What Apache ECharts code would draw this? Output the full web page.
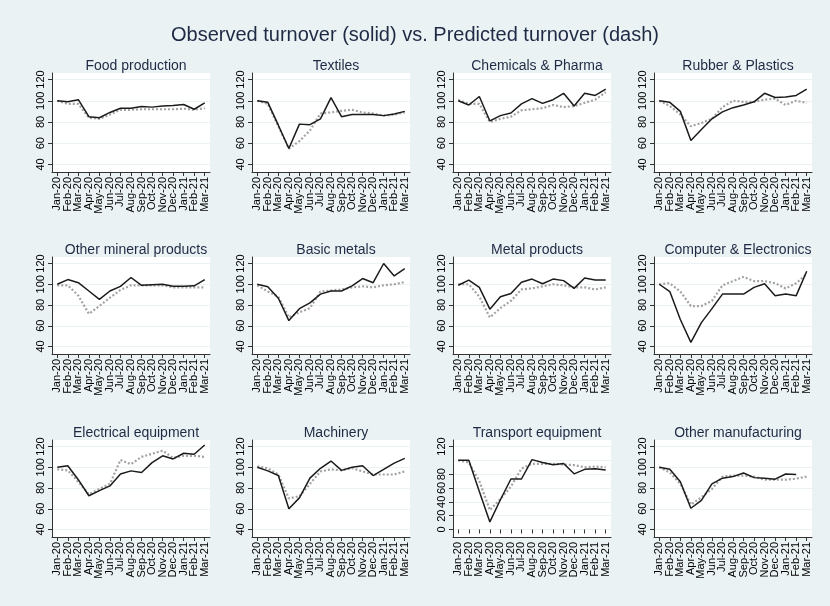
<!DOCTYPE html>
<html lang="en">
<head>
<meta charset="UTF-8">
<title>Observed vs predicted turnover</title>
<script src="https://cdn.jsdelivr.net/npm/echarts@6/dist/echarts.min.js"></script>
<style>html,body{margin:0;background:#eaf2f3;}</style>
</head>
<body>
<div id="main" style="width:830px;height:606px;"></div>
<script>
var months = ['Jan-20', 'Feb-20', 'Mar-20', 'Apr-20', 'May-20', 'Jun-20', 'Jul-20', 'Aug-20',
	'Sep-20', 'Oct-20', 'Nov-20', 'Dec-20', 'Jan-21', 'Feb-21', 'Mar-21'];

// observed (solid) and predicted (dash) turnover
var foodObs = [100, 99, 101, 85, 84, 89, 93, 93, 94.5, 94, 95, 95.5, 96.5, 92, 98];
var foodPred = [100, 97, 97, 84, 83, 87, 91.5, 91.5, 92, 92, 92, 92, 92.5, 91.5, 93];
var textilesObs = [100, 98.5, 77, 55, 78, 77.5, 83, 103, 85, 87, 87, 87, 86, 87.5, 90];
var textilesPred = [100, 97, 76, 55, 62, 72, 88, 89, 90.5, 91.5, 89, 88, 86, 87, 89];
var chemObs = [100, 96, 104, 81, 86, 88.5, 97, 102, 97.5, 101, 107, 95, 107, 105, 111];
var chemPred = [101, 97, 97, 80, 83, 85, 91, 92, 93, 96, 94, 95, 98, 101, 108];
var rubberObs = [100, 98.5, 90, 62.5, 73, 83, 89.5, 93.5, 96, 99, 107, 103, 103.5, 105, 111];
var rubberPred = [100, 95, 87, 76, 79, 83, 94, 100, 99, 99, 101, 102, 96, 100, 98];
var mineralObs = [100, 104.5, 101.5, 93.5, 85.5, 93.5, 98, 106.5, 99, 99.5, 100, 98, 98, 98.5, 104.5];
var mineralPred = [99, 99, 89, 71.5, 79, 87, 94.5, 99, 99, 99, 99, 97, 97, 97, 97];
var basicObs = [100, 97.5, 86.5, 65, 76.5, 82, 90.5, 93.5, 93.5, 98.5, 105.5, 101.5, 120, 108, 115];
var basicPred = [99, 93, 88, 68, 73, 77, 93, 94, 95, 97, 98, 97, 99, 100, 102];
var metalObs = [99, 104, 97, 76, 88, 91, 102, 105, 100.5, 105, 103.5, 96, 106, 104, 104];
var metalPred = [100, 100, 88, 68, 77, 84, 95, 96, 98, 100, 99, 97, 97, 95, 97];
var compObs = [100, 93, 66, 44, 63, 76.5, 90.5, 90.5, 90.5, 97, 100.5, 89, 90.5, 89, 112.5];
var compPred = [100, 101, 93, 79, 79, 84, 99, 103, 107, 103, 103, 101, 96, 101, 110];
var elecObs = [100, 101.5, 88, 72.5, 77.5, 82, 93.5, 96.5, 95, 104.5, 111, 108, 113.5, 112.5, 121.5];
var elecPred = [98, 97, 86, 74, 79, 84, 107, 103, 110, 113, 116, 109, 111, 111, 110];
var machObs = [100, 96.5, 92, 60, 70.5, 89.5, 99, 106, 97, 100, 101.5, 92, 98, 104, 108.5];
var machPred = [101, 99, 93, 70, 72, 84, 96, 98, 97, 99, 96, 93, 93, 93, 96];
var transObs = [100, 100, 55, 11, 43, 73, 73, 101, 97, 93.5, 95.5, 80.5, 87, 88, 86];
var transPred = [100, 97, 70, 28, 44, 62, 88, 95, 95, 95, 94, 93, 90, 91, 90];
var otherObs = [100, 98, 86, 60.5, 68, 84, 89.5, 91, 94.5, 90, 89.5, 88.5, 93.5, 93, null];
var otherPred = [100, 95, 84, 64, 71, 79, 91, 92, 92, 91, 88, 88, 88, 89, 91];

var panelTitles = ['Food production', 'Textiles', 'Chemicals & Pharma', 'Rubber & Plastics',
	'Other mineral products', 'Basic metals', 'Metal products', 'Computer & Electronics',
	'Electrical equipment', 'Machinery', 'Transport equipment', 'Other manufacturing'];
var observed = [foodObs, textilesObs, chemObs, rubberObs, mineralObs, basicObs, metalObs, compObs,
	elecObs, machObs, transObs, otherObs];
var predicted = [foodPred, textilesPred, chemPred, rubberPred, mineralPred, basicPred, metalPred, compPred,
	elecPred, machPred, transPred, otherPred];
var yMin = [40, 40, 40, 40, 40, 40, 40, 40, 40, 40, 0, 40];
var yMax = 120;

// layout of the 4 x 3 panels
var colLeft = [52, 252, 453, 654];
var plotWidth = 158;
var rowTop = [73, 257, 440];
var rowBottom = [172, 354, 537];
var padTop = 6.5, padBottom = 7.5;
var font = 'Liberation Sans';
var axisColor = '#333';

var grids = [], xAxes = [], yAxes = [], series = [];
var titles = [{
	text: 'Observed turnover (solid) vs. Predicted turnover (dash)',
	left: 'center',
	top: 20,
	textStyle: {fontFamily: font, fontSize: 20, fontWeight: 'normal', color: '#1e2a44'}
}];

function addPanel(i) {
	var c = i % 4, r = Math.floor(i / 4);
	var x0 = colLeft[c], y0 = rowTop[r], h = rowBottom[r] - rowTop[r];

	titles.push({
		text: panelTitles[i],
		left: x0 + plotWidth / 2,
		textAlign: 'center',
		top: y0 - 19,
		textStyle: {fontFamily: font, fontSize: 14, fontWeight: 'normal', color: '#1e2a44'}
	});

	// white plot region with the axis lines
	grids.push({left: x0, top: y0, width: plotWidth, height: h, show: true,
		backgroundColor: '#fff', borderWidth: 0});
	// data region inside it
	grids.push({left: x0, top: y0 + padTop, width: plotWidth, height: h - padTop - padBottom});

	xAxes.push({
		gridIndex: 2 * i, type: 'value', min: 0, max: 1,
		axisLine: {show: true, onZero: false, lineStyle: {color: axisColor, width: 1}},
		axisTick: {show: false}, axisLabel: {show: false}, splitLine: {show: false}
	});
	yAxes.push({
		gridIndex: 2 * i, type: 'value', min: 0, max: 1,
		axisLine: {show: true, onZero: false, lineStyle: {color: axisColor, width: 1}},
		axisTick: {show: false}, axisLabel: {show: false}, splitLine: {show: false}
	});

	xAxes.push({
		gridIndex: 2 * i + 1, type: 'category', data: months, boundaryGap: true,
		offset: padBottom,
		axisLine: {show: false},
		axisTick: {show: true, alignWithLabel: true, length: 4, lineStyle: {color: axisColor}},
		axisLabel: {rotate: 90, interval: 0, fontSize: 11, margin: 5, color: '#000', fontFamily: font,
			hideOverlap: false}
	});
	yAxes.push({
		gridIndex: 2 * i + 1, type: 'value', min: yMin[i], max: yMax, interval: 20,
		axisLine: {show: false},
		axisTick: {show: true, length: 4, lineStyle: {color: axisColor}},
		axisLabel: {rotate: 90, fontSize: 11, margin: 6, color: '#000', fontFamily: font,
			showMinLabel: true, showMaxLabel: true, hideOverlap: false},
		splitLine: {show: true, lineStyle: {color: '#eaf2f3', width: 1}}
	});

	series.push({
		type: 'line', xAxisIndex: 2 * i + 1, yAxisIndex: 2 * i + 1,
		data: predicted[i], showSymbol: false, clip: false,
		lineStyle: {color: '#a3a3a3', width: 2.2, type: [2, 2]}
	});
	series.push({
		type: 'line', xAxisIndex: 2 * i + 1, yAxisIndex: 2 * i + 1,
		data: observed[i], showSymbol: false, clip: false,
		lineStyle: {color: '#1b1b1b', width: 1.5}
	});
}

for (var i = 0; i < panelTitles.length; i++) {
	addPanel(i);
}

var option = {
	backgroundColor: '#eaf2f3',
	animation: false,
	title: titles,
	grid: grids,
	xAxis: xAxes,
	yAxis: yAxes,
	series: series
};

var myChart = echarts.init(document.getElementById('main'));
myChart.setOption(option);
</script>
</body>
</html>
